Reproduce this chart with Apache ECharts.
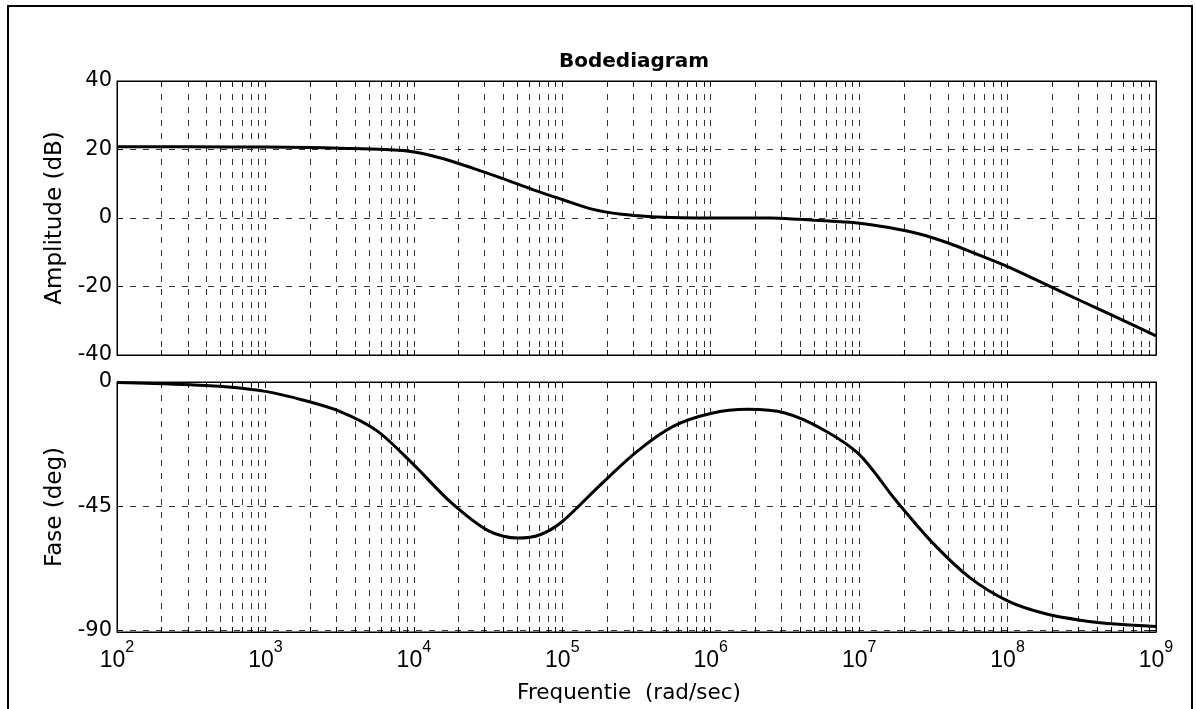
<!DOCTYPE html>
<html>
<head>
<meta charset="utf-8">
<script src="https://cdn.jsdelivr.net/npm/echarts@6/dist/echarts.min.js"></script>
<style>
html,body{margin:0;padding:0;background:#fff;}
#chart{width:1196px;height:709px;}
</style>
</head>
<body>
<div id="chart"></div>
<script>
// ---- data ----
var titleText = 'Bodediagram';
var xAxisName = 'Frequentie  (rad/sec)';
var magAxisName = 'Amplitude (dB)';
var phaseAxisName = 'Fase (deg)';

var decadeExponents = [2, 3, 4, 5, 6, 7, 8, 9];
var magTicks = [-40, -20, 0, 20, 40];
var phaseTicks = [-90, -45, 0];

var magLogFreq = [2.0, 2.5, 3.0, 3.3, 3.5, 3.8, 4.0, 4.2, 4.4, 4.6, 4.8, 5.0, 5.2, 5.4, 5.6, 5.8, 6.0, 6.4, 6.6, 6.8, 7.0, 7.2, 7.4, 7.6, 7.8, 8.0, 8.2, 8.4, 8.6, 8.8, 9.0];
var magDb =      [20.8, 20.8, 20.7, 20.6, 20.4, 20.0, 19.3, 17.3, 14.5, 11.5, 8.3, 5.4, 2.6, 1.1, 0.4, 0.1, 0.0, 0.0, -0.4, -0.9, -1.5, -2.8, -4.6, -7.3, -10.7, -14.2, -18.2, -22.3, -26.3, -30.3, -34.4];

var phaseLogFreq = [2.0, 2.25, 2.5, 2.75, 3.0, 3.25, 3.5, 3.75, 4.0, 4.25, 4.5, 4.7, 4.85, 5.0, 5.25, 5.5, 5.75, 6.0, 6.25, 6.5, 6.75, 7.0, 7.25, 7.5, 7.75, 8.0, 8.25, 8.5, 8.75, 9.0];
var phaseDeg =     [-0.2, -0.5, -1.0, -1.8, -3.4, -6.5, -10.6, -17.6, -30.0, -43.6, -53.8, -56.5, -55.3, -50.5, -37.6, -25.3, -16.0, -11.4, -9.9, -11.2, -17.0, -26.2, -43.0, -58.5, -71.0, -79.2, -83.8, -86.3, -87.7, -88.5];

// ---- helpers ----
function pairs(lf, vals) {
  var out = [];
  for (var i = 0; i < lf.length; i++) out.push([Math.pow(10, lf[i]), vals[i]]);
  return out;
}
var decadeValues = decadeExponents.map(function (e) { return Math.pow(10, e); });
var allTickValues = [];
for (var d = 0; d < decadeExponents.length - 1; d++) {
  for (var k = 1; k <= 9; k++) allTickValues.push(k * Math.pow(10, decadeExponents[d]));
}
allTickValues.push(Math.pow(10, decadeExponents[decadeExponents.length - 1]));

var FONT = 'DejaVu Sans';
var gridLine = { show: true, lineStyle: { color: '#333', width: 1, type: [6, 7] } };

function xAxisDef(gridIndex, position, showLabels) {
  return {
    type: 'log', logBase: 10, gridIndex: gridIndex, position: position,
    min: decadeValues[0], max: decadeValues[decadeValues.length - 1],
    axisLine: { show: true, onZero: false, lineStyle: { color: '#000', width: 1 } },
    axisTick: { show: true, inside: true, length: 5, customValues: allTickValues, lineStyle: { color: '#000' } },
    splitLine: position === 'bottom' ? gridLine : { show: false },
    minorTick: { show: false },
    axisLabel: {
      show: showLabels, customValues: decadeValues, margin: 8,
      formatter: function (v) { return '{b|10}{s|' + Math.round(Math.log10(v)) + '}'; },
      rich: {
        b: { fontSize: 23, fontFamily: 'Liberation Sans', color: '#000', lineHeight: 32, verticalAlign: 'bottom' },
        s: { fontSize: 16, fontFamily: 'Liberation Sans', color: '#000', lineHeight: 32, verticalAlign: 'top' }
      }
    },
    name: (showLabels ? xAxisName : ''), nameLocation: 'middle', nameGap: 50,
    nameTextStyle: { fontSize: 21.5, fontFamily: FONT, color: '#000', padding: [0, 15, 0, 0] }
  };
}
function yAxisDef(gridIndex, position, ticks, min, max, name, showLabels) {
  return {
    type: 'value', gridIndex: gridIndex, position: position, min: min, max: max,
    axisLine: { show: true, onZero: false, lineStyle: { color: '#000', width: 1 } },
    axisTick: { show: true, inside: true, length: 6, customValues: ticks, lineStyle: { color: '#000' } },
    splitLine: position === 'left' ? gridLine : { show: false },
    axisLabel: { show: showLabels, customValues: ticks, fontSize: 21, fontFamily: FONT, color: '#000', margin: 5 },
    name: (showLabels ? name : ''), nameLocation: 'middle', nameGap: 48,
    nameTextStyle: { fontSize: 23, fontFamily: FONT, color: '#000' }
  };
}

var chart = echarts.init(document.getElementById('chart'), null, { renderer: 'canvas' });
chart.setOption({
  backgroundColor: '#fff',
  animation: false,
  title: {
    text: titleText, left: 629, top: 47, textAlign: 'center',
    textStyle: { fontSize: 20, fontWeight: 'bold', fontFamily: FONT, color: '#000' }
  },
  graphic: [{
    type: 'rect', shape: { x: 8, y: 6, width: 1184, height: 712 },
    style: { fill: 'none', stroke: '#000', lineWidth: 2 }, silent: true, z: 100
  }],
  grid: [
    { left: 117, right: 40, top: 81, height: 274, show: true, borderColor: '#000', borderWidth: 1 },
    { left: 117, right: 40, top: 382, height: 250, show: true, borderColor: '#000', borderWidth: 1 }
  ],
  xAxis: [
    xAxisDef(0, 'bottom', false),
    xAxisDef(0, 'top', false),
    xAxisDef(1, 'bottom', true),
    xAxisDef(1, 'top', false)
  ],
  yAxis: [
    yAxisDef(0, 'left', magTicks, -40, 40, magAxisName, true),
    yAxisDef(0, 'right', magTicks, -40, 40, '', false),
    yAxisDef(1, 'left', phaseTicks, -90.5, 0, phaseAxisName, true),
    yAxisDef(1, 'right', phaseTicks, -90.5, 0, '', false)
  ],
  series: [
    {
      type: 'line', xAxisIndex: 0, yAxisIndex: 0, data: pairs(magLogFreq, magDb),
      smooth: 0.3, showSymbol: false, lineStyle: { color: '#000', width: 3 }, z: 10
    },
    {
      type: 'line', xAxisIndex: 2, yAxisIndex: 2, data: pairs(phaseLogFreq, phaseDeg),
      smooth: 0.3, showSymbol: false, lineStyle: { color: '#000', width: 3 }, z: 10
    }
  ]
});
</script>
</body>
</html>
